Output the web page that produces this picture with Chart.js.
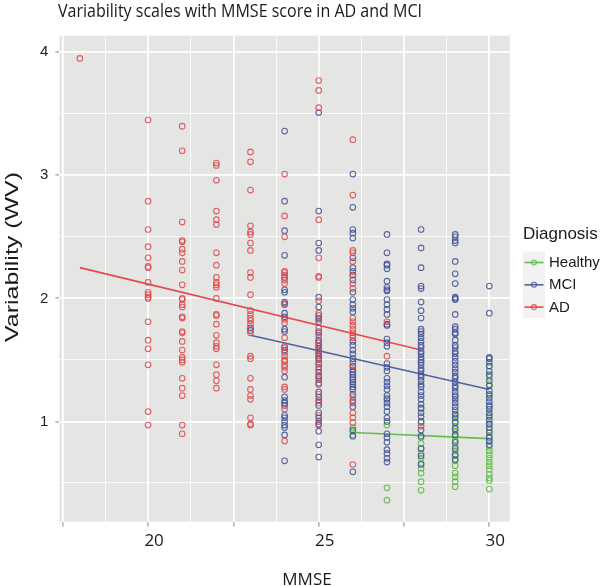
<!DOCTYPE html>
<html>
<head>
<meta charset="utf-8">
<script src="https://cdn.jsdelivr.net/npm/chart.js@4.4.1/dist/chart.umd.min.js"></script>
<style>
html, body { margin: 0; padding: 0; background: #fff; }
#wrap { width: 600px; height: 586px; }
</style>
</head>
<body>
<div id="wrap"><canvas id="c"></canvas></div>
<script>
// values, one array per MMSE score and diagnosis
const ad18 = [3.95];
const ad20 = [3.45, 2.79, 2.56, 2.42, 2.33, 2.26, 2.25, 2.13, 2.05, 2.03, 2.01, 2.00, 1.81, 1.66, 1.59, 1.46, 1.08, 0.97];
const ad21 = [3.40, 3.20, 2.62, 2.47, 2.46, 2.40, 2.37, 2.30, 2.23, 2.11, 2.00, 1.99, 1.95, 1.93, 1.85, 1.84, 1.73, 1.72, 1.65, 1.58, 1.52, 1.50, 1.48, 1.35, 1.27, 1.21, 0.97, 0.90];
const ad22 = [3.10, 3.08, 2.96, 2.71, 2.64, 2.60, 2.37, 2.27, 2.17, 2.13, 2.11, 2.09, 2.00, 1.87, 1.86, 1.79, 1.70, 1.64, 1.61, 1.59, 1.46, 1.38, 1.33, 1.27];
const ad23 = [3.19, 3.11, 2.88, 2.59, 2.54, 2.52, 2.45, 2.39, 2.21, 2.17, 2.03, 1.90, 1.87, 1.84, 1.82, 1.79, 1.72, 1.53, 1.51, 1.35, 1.26, 1.21, 1.18, 1.03, 0.98, 0.97];
const ad24 = [3.01, 2.67, 2.50, 2.22, 2.21, 2.19, 2.15, 2.12, 1.96, 1.83, 1.80, 1.68, 1.61, 1.56, 1.53, 1.50, 1.49, 1.46, 1.44, 1.41, 1.28, 1.26, 1.10, 0.84];
const ad25 = [3.77, 3.69, 3.55, 2.64, 2.33, 2.18, 2.17, 1.98, 1.88, 1.83, 1.76, 1.72, 1.66, 1.62, 1.58, 1.55, 1.50, 1.47, 1.42, 1.36, 1.30, 1.22, 1.15, 1.05, 0.98];
const ad26 = [3.29, 2.84, 2.39, 2.37, 2.30, 2.19, 2.12, 2.08, 1.84, 1.81, 1.78, 1.75, 1.72, 1.70, 1.68, 1.45, 1.20, 1.15, 1.07, 1.03, 0.99, 0.65];
const ad27 = [1.81, 1.53];
const ad28 = [0.96];

const mci23 = [1.76, 1.74];
const mci24 = [3.36, 2.79, 2.55, 2.35, 2.17, 2.07, 2.05, 1.97, 1.95, 1.88, 1.85, 1.75, 1.73, 1.60, 1.58, 1.36, 1.20, 1.17, 1.15, 1.13, 1.05, 1.03, 1.00, 0.97, 0.95, 0.89, 0.68];
const mci25 = [3.51, 2.71, 2.45, 2.39, 2.01, 1.93, 1.86, 1.84, 1.81, 1.73, 1.70, 1.66, 1.64, 1.61, 1.59, 1.56, 1.53, 1.51, 1.47, 1.44, 1.40, 1.37, 1.34, 1.31, 1.24, 1.20, 1.17, 1.13, 1.07, 1.03, 1.00, 0.97, 0.92, 0.81, 0.71];
const mci26 = [3.01, 2.74, 2.56, 2.53, 2.49, 2.33, 2.25, 2.22, 2.19, 2.15, 2.05, 1.99, 1.95, 1.92, 1.89, 1.65, 1.62, 1.58, 1.55, 1.51, 1.48, 1.45, 1.42, 1.40, 1.38, 1.36, 1.34, 1.32, 1.30, 1.28, 1.26, 1.22, 1.17, 1.12, 0.93, 0.88, 0.59];
const mci27 = [2.52, 2.37, 2.28, 2.27, 2.24, 2.14, 2.09, 2.07, 2.06, 1.99, 1.95, 1.91, 1.87, 1.79, 1.78, 1.67, 1.64, 1.61, 1.47, 1.44, 1.41, 1.35, 1.32, 1.29, 1.26, 1.21, 1.18, 1.15, 1.12, 1.08, 1.03, 1.00, 0.90, 0.87, 0.83, 0.77, 0.74, 0.70, 0.67];
const mci28 = [2.56, 2.41, 2.25, 2.10, 2.08, 1.97, 1.90, 1.84, 1.75, 1.73, 1.71, 1.68, 1.65, 1.62, 1.60, 1.57, 1.55, 1.52, 1.50, 1.48, 1.46, 1.43, 1.41, 1.38, 1.36, 1.33, 1.30, 1.28, 1.24, 1.21, 1.18, 1.14, 1.11, 1.07, 1.04, 1.00, 0.93, 0.88, 0.78, 0.72, 0.65];
const mci29 = [2.52, 2.50, 2.47, 2.45, 2.30, 2.20, 2.12, 2.01, 2.00, 1.99, 1.87, 1.77, 1.75, 1.72, 1.71, 1.66, 1.62, 1.60, 1.57, 1.55, 1.52, 1.49, 1.46, 1.43, 1.40, 1.37, 1.35, 1.32, 1.29, 1.27, 1.24, 1.21, 1.18, 1.15, 1.12, 1.09, 1.06, 1.03, 0.99, 0.94, 0.89, 0.83, 0.78, 0.73, 0.69];
const mci30 = [2.10, 1.88, 1.52, 1.51, 1.48, 1.45, 1.41, 1.38, 1.33, 1.29, 1.25, 1.22, 1.19, 1.16, 1.13, 1.10, 1.07, 1.04, 1.01, 0.98, 0.95, 0.91, 0.87, 0.84, 0.81];

const hc26 = [0.95, 0.92, 0.89];
const hc27 = [1.19, 0.97, 0.46, 0.36];
const hc28 = [1.10, 0.99, 0.87, 0.82, 0.78, 0.74, 0.70, 0.66, 0.62, 0.58, 0.51, 0.44];
const hc29 = [1.20, 1.05, 1.00, 0.96, 0.92, 0.88, 0.85, 0.80, 0.76, 0.72, 0.68, 0.64, 0.58, 0.55, 0.51, 0.47];
const hc30 = [1.45, 1.36, 1.30, 1.21, 1.12, 1.05, 0.98, 0.93, 0.88, 0.84, 0.79, 0.76, 0.73, 0.70, 0.67, 0.64, 0.61, 0.57, 0.54, 0.52, 0.45];

// fitted lines (endpoints)
const adFitX = [18, 28], adFitY = [2.25, 1.58];
const mciFitX = [23, 30], mciFitY = [1.70, 1.26];
const hcFitX = [26, 30], hcFitY = [0.91, 0.86];

const diagnoses = ['Healthy', 'MCI', 'AD'];
const xLabels = [20, 25, 30];
const yLabels = [1, 2, 3, 4];

const colors = {
    Healthy: { point: 'rgba(98,186,78,0.9)', line: '#66bd4f' },
    MCI: { point: 'rgba(64,80,150,0.85)', line: '#5262a3' },
    AD: { point: 'rgba(222,70,74,0.85)', line: '#e5484d' }
};

function columns(pairs) {
    const out = [];
    pairs.forEach(([x, vals]) => vals.forEach(v => out.push({ x: x, y: v })));
    return out;
}
function fit(xs, ys) {
    return xs.map((x, i) => ({ x: x, y: ys[i] }));
}

const adPoints = columns([[18, ad18], [20, ad20], [21, ad21], [22, ad22], [23, ad23], [24, ad24], [25, ad25], [26, ad26], [27, ad27], [28, ad28]]);
const mciPoints = columns([[23, mci23], [24, mci24], [25, mci25], [26, mci26], [27, mci27], [28, mci28], [29, mci29], [30, mci30]]);
const hcPoints = columns([[26, hc26], [27, hc27], [28, hc28], [29, hc29], [30, hc30]]);

function pointSet(label, data) {
    return {
        type: 'scatter', label: label, data: data,
        pointStyle: 'circle', pointRadius: 2.8, pointBorderWidth: 1.1,
        pointBackgroundColor: 'rgba(0,0,0,0)', pointBorderColor: colors[label].point,
        showLine: false
    };
}
function lineSet(label, data) {
    return {
        type: 'line', label: label + ' fit', data: data,
        borderColor: colors[label].line, borderWidth: 1.6,
        pointRadius: 0, fill: false, tension: 0
    };
}

const panelBg = {
    id: 'panelBg',
    beforeDraw(chart) {
        const a = chart.chartArea, ctx = chart.ctx;
        ctx.save();
        ctx.fillStyle = '#e5e5e3';
        ctx.fillRect(a.left, a.top, a.right - a.left, a.bottom - a.top);
        ctx.restore();
    }
};

// titles and legend, placed like the ggplot original
const textLayer = {
    id: 'textLayer',
    afterDraw(chart) {
        const ctx = chart.ctx;
        ctx.save();
        ctx.fillStyle = '#1a1a1a';

        // plot title
        ctx.font = '18px "Open Sans"';
        ctx.textAlign = 'left';
        ctx.textBaseline = 'alphabetic';
        const title = 'Variability scales with MMSE score in AD and MCI';
        let w = ctx.measureText(title).width;
        ctx.save();
        ctx.translate(58, 16.7);
        ctx.scale(364 / w, 1);
        ctx.fillText(title, 0, 0);
        ctx.restore();

        // y title
        ctx.font = '19px "Liberation Sans"';
        const yt = 'Variability (WV)';
        w = ctx.measureText(yt).width;
        ctx.save();
        ctx.translate(18, 257);
        ctx.rotate(-Math.PI / 2);
        ctx.scale(170 / w, 1);
        ctx.textAlign = 'center';
        ctx.fillText(yt, 0, 0);
        ctx.restore();

        // x title
        ctx.font = '17px "Open Sans"';
        ctx.textAlign = 'center';
        ctx.fillText('MMSE', 307, 585);

        // legend
        ctx.textAlign = 'left';
        ctx.font = '17px "Liberation Sans"';
        ctx.fillText('Diagnosis', 523, 239);
        ctx.font = '15px "Liberation Sans"';
        ctx.textBaseline = 'middle';
        diagnoses.forEach((d, i) => {
            const y = 262.5 + i * 22.3;
            ctx.fillStyle = '#f2f2f2';
            ctx.fillRect(523, y - 11, 22, 22);
            ctx.strokeStyle = colors[d].line;
            ctx.lineWidth = 1.6;
            ctx.beginPath();
            ctx.moveTo(524.5, y);
            ctx.lineTo(543.5, y);
            ctx.stroke();
            ctx.lineWidth = 1.1;
            ctx.strokeStyle = colors[d].point;
            ctx.beginPath();
            ctx.arc(534, y, 2.5, 0, Math.PI * 2);
            ctx.stroke();
            ctx.fillStyle = '#1a1a1a';
            ctx.fillText(d, 549, y + 0.5);
        });
        ctx.restore();
    }
};

new Chart(document.getElementById('c'), {
    data: {
        datasets: [
            pointSet('AD', adPoints),
            pointSet('MCI', mciPoints),
            pointSet('Healthy', hcPoints),
            lineSet('AD', fit(adFitX, adFitY)),
            lineSet('MCI', fit(mciFitX, mciFitY)),
            lineSet('Healthy', fit(hcFitX, hcFitY))
        ]
    },
    options: {
        responsive: true,
        maintainAspectRatio: false,
        animation: false,
        layout: { padding: { top: 35.7, right: 90.2, bottom: 0, left: 0 } },
        scales: {
            x: {
                type: 'linear',
                min: 17.4, max: 30.6,
                afterFit(scale) { scale.height = 64.3; },
                border: { display: false },
                grid: {
                    color: '#ffffff',
                    lineWidth: c => (c.tick && c.tick.value % 2.5 === 0) ? 1.8 : 0.8,
                    tickColor: c => (c.tick && c.tick.value % 2.5 === 0) ? '#8a8a8a' : 'rgba(0,0,0,0)',
                    tickLength: 5,
                    tickWidth: 1
                },
                ticks: {
                    stepSize: 1.25,
                    includeBounds: false,
                    autoSkip: false,
                    maxRotation: 0,
                    padding: 4,
                    labelOffset: 6,
                    color: '#1a1a1a',
                    font: { family: '"Open Sans"', size: 17 },
                    callback: v => xLabels.includes(v) ? String(v) : ''
                }
            },
            y: {
                type: 'linear',
                min: 0.185, max: 4.135,
                afterFit(scale) { scale.width = 59.4; },
                border: { display: false },
                grid: {
                    color: '#ffffff',
                    lineWidth: c => (c.tick && Number.isInteger(c.tick.value)) ? 1.8 : 0.8,
                    tickColor: c => (c.tick && Number.isInteger(c.tick.value)) ? '#8a8a8a' : 'rgba(0,0,0,0)',
                    tickLength: 4,
                    tickWidth: 1
                },
                ticks: {
                    stepSize: 0.5,
                    includeBounds: false,
                    autoSkip: false,
                    padding: 7,
                    color: '#222222',
                    font: { family: '"Liberation Sans"', size: 15 },
                    callback: v => yLabels.includes(v) ? String(v) : ''
                }
            }
        },
        plugins: {
            legend: { display: false },
            title: { display: false },
            tooltip: { enabled: false }
        }
    },
    plugins: [panelBg, textLayer]
});
</script>
</body>
</html>
